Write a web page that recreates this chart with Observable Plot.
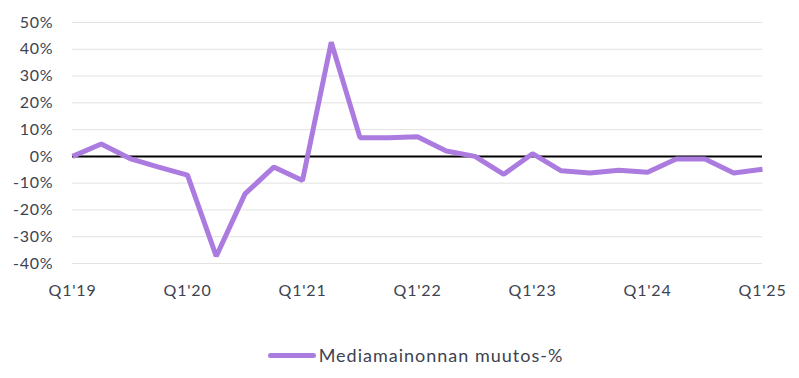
<!DOCTYPE html>
<html><head><meta charset="utf-8">
<script src="https://cdn.jsdelivr.net/npm/d3@7"></script>
<script src="https://cdn.jsdelivr.net/npm/@observablehq/plot@0.6"></script>
<style>
body{margin:0;background:#fff;font-family:Lato,sans-serif;}
#legend{display:flex;justify-content:center;align-items:center;margin-top:39px;font-size:18px;color:#3d4350;letter-spacing:1px;padding-left:32px}
#legend .sw{display:inline-block;width:48px;height:5px;border-radius:3px;background:#ab7be0;margin-right:3px}
svg text{letter-spacing:0.8px}
</style></head>
<body><div id="chart"></div><div id="legend"><span class="sw"></span><span>Mediamainonnan muutos-%</span></div>
<script>
const quarters = ["Q1'19","Q2'19","Q3'19","Q4'19","Q1'20","Q2'20","Q3'20","Q4'20","Q1'21","Q2'21","Q3'21","Q4'21","Q1'22","Q2'22","Q3'22","Q4'22","Q1'23","Q2'23","Q3'23","Q4'23","Q1'24","Q2'24","Q3'24","Q4'24","Q1'25"];
const values = [0,4.6,-0.8,-4,-7,-37.3,-14,-4,-9,42.6,7,7,7.3,2,0,-6.7,1,-5.4,-6.2,-5.2,-5.9,-1,-1,-6.2,-4.8];
const xTickLabels = ["Q1'19","Q1'20","Q1'21","Q1'22","Q1'23","Q1'24","Q1'25"];
const yTicks = [-40,-30,-20,-10,0,10,20,30,40,50];
const data = quarters.map((q,i)=>({i, q, v: values[i]}));
const xTicks = xTickLabels.map(l=>quarters.indexOf(l));
const chart = Plot.plot({
  width:799, height:305,
  marginLeft:72, marginRight:37, marginTop:22, marginBottom:42,
  style:{fontFamily:"Lato,sans-serif", fontSize:"16px", color:"#3d4350", background:"#fff"},
  x:{domain:[0,quarters.length-1], ticks:xTicks, tickFormat:i=>quarters[i], tickSize:0, tickPadding:21, label:null},
  y:{domain:[-40,50], ticks:yTicks, tickFormat:d=>d+"%", tickSize:0, tickPadding:19, label:null},
  marks:[
    Plot.gridY(yTicks,{stroke:"#e2e2e2", strokeOpacity:1, strokeWidth:1}),
    Plot.ruleY([0],{stroke:"#000", strokeWidth:2}),
    Plot.line(data,{x:"i", y:"v", stroke:"#ab7be0", strokeWidth:5, strokeLinejoin:"miter", strokeLinecap:"butt"})
  ]
});
document.getElementById("chart").appendChild(chart);
</script></body></html>
